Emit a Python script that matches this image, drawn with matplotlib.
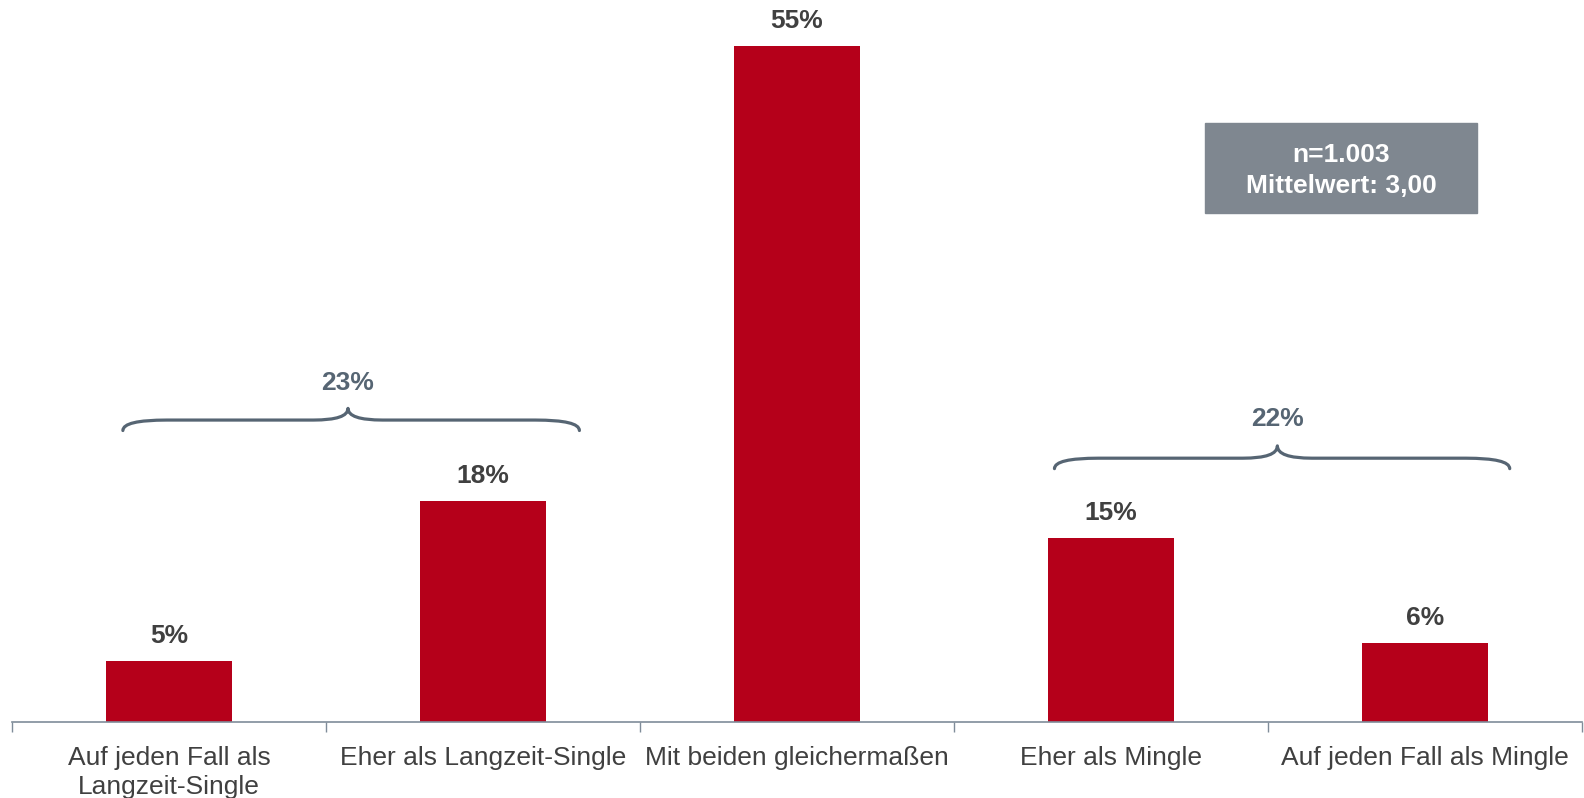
import numpy as np
import matplotlib.pyplot as plt
from matplotlib.path import Path
from matplotlib.patches import PathPatch, Rectangle

plt.rcParams['font.family'] = ['Liberation Sans', 'DejaVu Sans']

# Data
categories = ['Auf jeden Fall als\nLangzeit-Single', 'Eher als Langzeit-Single',
              'Mit beiden gleichermaßen', 'Eher als Mingle', 'Auf jeden Fall als Mingle']
values = [5, 18, 55, 15, 6.4]
value_labels = ['5%', '18%', '55%', '15%', '6%']
group_labels = ['23%', '22%']
box_lines = ['n=1.003', 'Mittelwert: 3,00']

BAR_COLOR = '#b5001a'
TEXT_COLOR = '#404040'
BRACE_COLOR = '#566573'
AXIS_COLOR = '#7f8c99'


def brace(ax, x0, x1, xc, y_end, y_line, y_tip, hook=0.14, tip=0.11):
    # curly brace as two mirrored halves
    verts = [(x0, y_end), (x0, y_line), (x0 + hook, y_line),
             (xc - tip, y_line), (xc, y_line), (xc, y_tip),
             (xc, y_line), (xc + tip, y_line),
             (x1 - hook, y_line), (x1, y_line), (x1, y_end)]
    codes = [Path.MOVETO, Path.CURVE3, Path.CURVE3,
             Path.LINETO, Path.CURVE3, Path.CURVE3,
             Path.CURVE3, Path.CURVE3,
             Path.LINETO, Path.CURVE3, Path.CURVE3]
    ax.add_patch(PathPatch(Path(verts, codes), fill=False, ec=BRACE_COLOR,
                           lw=2.3, capstyle='round', joinstyle='round'))


fig = plt.figure(figsize=(15.84, 7.98), dpi=100)
ax = fig.add_axes([0.0076, 0.0952, 0.9911, 0.9048])

x = np.arange(len(values))
ax.bar(x, values, width=0.4, color=BAR_COLOR, zorder=2)

for xi, v, lab in zip(x, values, value_labels):
    ax.annotate(lab, (xi, v), xytext=(0, 18), textcoords='offset points',
                ha='center', va='center', fontsize=19, fontweight='bold',
                color=TEXT_COLOR)

ax.set_xlim(-0.5, len(values) - 0.5)
ax.set_ylim(0, 58.7)

# braces for grouped answers
brace(ax, -0.147, 1.307, 0.57, 23.7, 24.55, 25.5)
ax.text(0.57, 27.6, group_labels[0], ha='center', va='center', fontsize=19,
        fontweight='bold', color=BRACE_COLOR)
brace(ax, 2.82, 4.27, 3.53, 20.6, 21.45, 22.45)
ax.text(3.53, 24.6, group_labels[1], ha='center', va='center', fontsize=19,
        fontweight='bold', color=BRACE_COLOR)

# info box
fig.patches.append(Rectangle((1205 / 1584, 1 - 213 / 798), 272 / 1584, 90 / 798,
                             transform=fig.transFigure, color='#7f8790', zorder=1))
fig.text(1341 / 1584, 1 - 155 / 798, box_lines[0], ha='center', va='center',
         fontsize=19, fontweight='bold', color='white')
fig.text(1341 / 1584, 1 - 186 / 798, box_lines[1], ha='center', va='center',
         fontsize=19, fontweight='bold', color='white')

# axes styling
for s in ['top', 'right', 'left']:
    ax.spines[s].set_visible(False)
ax.spines['bottom'].set_color(AXIS_COLOR)
ax.spines['bottom'].set_linewidth(1.2)
ax.set_yticks([])
ax.set_xticks(x)
ax.set_xticklabels(categories, fontsize=19, color=TEXT_COLOR, linespacing=1.3)
ax.tick_params(axis='x', which='major', length=0, pad=17)
ax.set_xticks(np.arange(len(values) + 1) - 0.5, minor=True)
ax.tick_params(axis='x', which='minor', length=7, color=AXIS_COLOR, width=1)

fig.savefig('out.png', dpi=100)
